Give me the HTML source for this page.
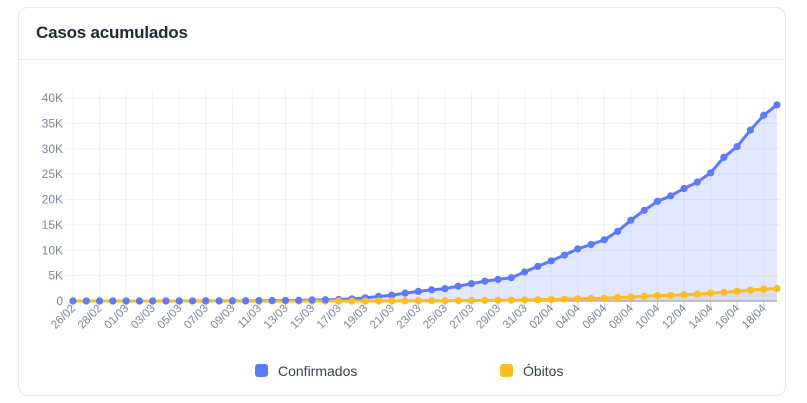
<!DOCTYPE html>
<html><head><meta charset="utf-8"><style>
body{margin:0;background:#fff;font-family:"Liberation Sans",sans-serif;width:807px;height:403px;overflow:hidden}
.card{position:absolute;left:18px;top:7px;width:768px;height:389px;border:1px solid #e2e8f0;border-radius:10px;box-sizing:border-box}
.title{position:absolute;left:17px;top:15px;font-size:17px;font-weight:bold;color:#1e293b;letter-spacing:-0.2px}
.sep{position:absolute;left:0;right:0;top:51px;border-top:1px solid #e8edf3}
svg{position:absolute;left:0;top:0}
</style></head><body>
<div class="card">
<div class="title">Casos acumulados</div>
<div class="sep"></div>
</div>
<svg id="ch" width="807" height="403"></svg>
<script>
const dates=["26/02","27/02","28/02","29/02","01/03","02/03","03/03","04/03","05/03","06/03","07/03","08/03","09/03","10/03","11/03","12/03","13/03","14/03","15/03","16/03","17/03","18/03","19/03","20/03","21/03","22/03","23/03","24/03","25/03","26/03","27/03","28/03","29/03","30/03","31/03","01/04","02/04","03/04","04/04","05/04","06/04","07/04","08/04","09/04","10/04","11/04","12/04","13/04","14/04","15/04","16/04","17/04","18/04","19/04"];
const confirmados=[1,1,1,2,2,2,2,3,8,13,19,25,25,34,52,77,98,121,200,234,291,428,621,904,1128,1546,1891,2201,2433,2915,3417,3904,4256,4579,5717,6836,7910,9056,10278,11130,12056,13717,15927,17857,19638,20727,22169,23430,25262,28320,30425,33682,36599,38654];
const obitos=[0,0,0,0,0,0,0,0,0,0,0,0,0,0,0,0,0,0,0,0,1,4,7,11,18,25,34,46,59,77,92,111,136,159,201,240,299,359,432,486,553,667,800,941,1056,1124,1223,1328,1532,1736,1924,2141,2347,2462];
const yTicks=[0,5000,10000,15000,20000,25000,30000,35000,40000];
const yTickLabels=["0","5K","10K","15K","20K","25K","30K","35K","40K"];
const NS="http://www.w3.org/2000/svg",svg=document.getElementById('ch');
const X0=73,X1=777,Y0=301,Y1=98;
const x=i=>X0+(X1-X0)*i/(dates.length-1);
const y=v=>Y0-(Y0-Y1)*v/40000;
function mk(t,a,p){const e=document.createElementNS(NS,t);for(const k in a)e.setAttribute(k,a[k]);(p||svg).appendChild(e);return e;}
yTicks.forEach((v,i)=>{
 const g=mk('line',{x1:66,x2:X1+3,y1:y(v),y2:y(v),stroke:'#eef2f8','stroke-width':1});
 
 
 const t=mk('text',{x:63,y:y(v)+4,'text-anchor':'end','font-size':12,fill:'#7b879b','font-family':'Liberation Sans, sans-serif'});
 t.textContent=yTickLabels[i];
 
 
});
dates.forEach((d,i)=>{
 if(i%2)return;
 const g=mk('line',{x1:x(i),x2:x(i),y1:Y1-8,y2:Y0,stroke:'#eef2f8','stroke-width':1});
 
 
 const tk=mk('line',{x1:x(i),x2:x(i),y1:Y0,y2:Y0+6,stroke:'#c5cbd5','stroke-width':1});
 
 
 const t=mk('text',{x:x(i)+3,y:Y0+8,'text-anchor':'end','font-size':11.5,fill:'#7b879b','font-family':'Liberation Sans, sans-serif',transform:`rotate(-45 ${x(i)+3} ${Y0+8})`});
 t.textContent=d;
 
 
});
function series(vals,color,fill,name){
 let p=vals.map((v,i)=>`${i?'L':'M'}${x(i)},${y(v)}`).join('');
 const a=mk('path',{d:p+`L${x(vals.length-1)},${Y0}L${X0},${Y0}Z`,fill:fill});
 
 
 const l=mk('path',{d:p,fill:'none',stroke:color,'stroke-width':3,'stroke-linejoin':'round'});
 
 
 vals.forEach((v,i)=>{
  const c=mk('circle',{cx:x(i),cy:y(v),r:3.6,fill:color});
  
  
 });
}
series(confirmados,'#5d7af8','rgba(91,121,247,0.17)','confirmados');
const bl=mk('line',{x1:X0,x2:X1,y1:Y0,y2:Y0,stroke:'#b0b4bb','stroke-width':1.5});


series(obitos,'#fbbd23','rgba(160,120,100,0.12)','obitos');
confirmados.slice(0,20).forEach((v,i)=>{
 const c=mk('circle',{cx:x(i),cy:y(v),r:3.6,fill:'#5d7af8'});
 
 
});
const legend=[["Confirmados","#5d7af8",255],["Óbitos","#fbbd23",500]];
legend.forEach(([n,c,lx])=>{
 const r=mk('rect',{x:lx,y:364,width:13,height:13,rx:3,fill:c});
 
 
 const t=mk('text',{x:lx+23,y:376,'font-size':14,fill:'#334155','font-family':'Liberation Sans, sans-serif'});
 t.textContent=n;
 
 
});
</script>
</body></html>
